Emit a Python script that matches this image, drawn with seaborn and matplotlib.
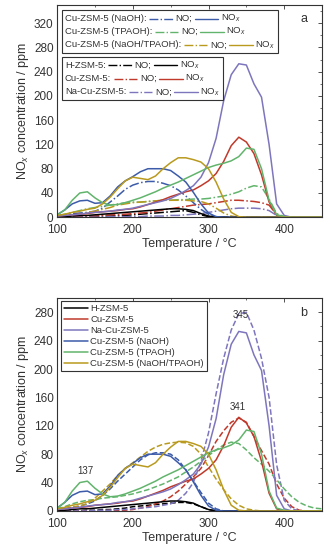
import matplotlib
matplotlib.use('Agg')
import matplotlib.pyplot as plt
from matplotlib.lines import Line2D
from matplotlib.ticker import MultipleLocator
from matplotlib.offsetbox import TextArea, DrawingArea, HPacker, VPacker, AnchoredOffsetbox
import seaborn as sns

# temperature grid (degC)
temp = list(range(100, 451, 10))

# measured NOx (solid) per sample
h_nox = [1, 1, 2, 3, 3, 4, 5, 6, 7, 8, 9, 10, 11, 12, 13, 14, 14, 13, 11, 6, 2, 0, 0, 0, 0, 0, 0, 0, 0, 0, 0, 0, 0, 0, 0, 0]
cu_nox = [2, 3, 4, 5, 6, 8, 9, 10, 11, 13, 14, 17, 21, 25, 29, 34, 38, 42, 45, 52, 60, 72, 92, 118, 132, 124, 105, 70, 25, 3, 0, 0, 0, 0, 0, 0]
nacu_nox = [2, 3, 4, 5, 7, 8, 9, 10, 12, 13, 15, 18, 21, 24, 27, 31, 37, 44, 52, 66, 90, 130, 192, 235, 253, 251, 220, 198, 120, 22, 3, 0, 0, 0, 0, 0]
naoh_nox = [4, 12, 22, 27, 28, 23, 24, 35, 50, 60, 67, 75, 80, 80, 80, 77, 68, 58, 41, 22, 7, 1, 0, 0, 0, 0, 0, 0, 0, 0, 0, 0, 0, 0, 0, 0]
tpaoh_nox = [4, 12, 28, 40, 42, 32, 24, 20, 21, 24, 28, 32, 37, 42, 48, 53, 58, 64, 70, 76, 82, 86, 89, 93, 100, 114, 112, 80, 28, 4, 1, 0, 0, 0, 0, 0]
mix_nox = [3, 5, 8, 10, 13, 15, 22, 33, 47, 60, 66, 64, 62, 68, 80, 90, 98, 98, 95, 91, 80, 58, 30, 8, 1, 0, 0, 0, 0, 0, 0, 0, 0, 0, 0, 0]

# measured NO (dash-dot)
h_no = [0, 0, 0, 1, 1, 1, 2, 2, 3, 3, 4, 5, 6, 7, 8, 9, 10, 11, 8, 4, 1, 0, 0, 0, 0, 0, 0, 0, 0, 0, 0, 0, 0, 0, 0, 0]
cu_no = [0, 0, 1, 1, 2, 2, 3, 4, 4, 5, 6, 7, 8, 10, 12, 14, 16, 18, 20, 21, 22, 24, 26, 28, 28, 27, 26, 24, 20, 4, 0, 0, 0, 0, 0, 0]
nacu_no = [0, 0, 0, 0, 0, 0, 0, 1, 1, 1, 1, 1, 2, 2, 2, 3, 3, 4, 5, 6, 8, 10, 12, 14, 15, 15, 15, 14, 11, 3, 0, 0, 0, 0, 0, 0]
naoh_no = [2, 4, 6, 7, 8, 10, 15, 25, 35, 46, 53, 57, 59, 59, 56, 52, 45, 35, 24, 13, 5, 1, 0, 0, 0, 0, 0, 0, 0, 0, 0, 0, 0, 0, 0, 0]
tpaoh_no = [2, 5, 8, 11, 14, 16, 18, 20, 22, 24, 25, 25, 26, 27, 28, 28, 29, 29, 30, 30, 31, 33, 35, 38, 42, 48, 52, 50, 30, 6, 1, 0, 0, 0, 0, 0]
mix_no = [1, 2, 3, 5, 8, 10, 13, 16, 20, 22, 24, 25, 26, 27, 28, 28, 28, 28, 27, 26, 22, 15, 7, 2, 0, 0, 0, 0, 0, 0, 0, 0, 0, 0, 0, 0]

# simulated NOx (dashed, panel b)
h_fit = [0, 0, 0, 0, 1, 1, 2, 2, 3, 4, 6, 7, 8, 9, 10, 11, 12, 12, 10, 6, 2, 0, 0, 0, 0, 0, 0, 0, 0, 0, 0, 0, 0, 0, 0, 0]
cu_fit = [0, 0, 0, 0, 0, 0, 0, 1, 1, 1, 2, 4, 6, 10, 14, 20, 28, 38, 48, 60, 78, 98, 113, 125, 131, 125, 105, 85, 66, 38, 18, 6, 1, 0, 0, 0]
nacu_fit = [0, 0, 0, 0, 0, 1, 1, 1, 2, 2, 3, 4, 5, 6, 8, 10, 15, 25, 40, 70, 110, 165, 215, 255, 278, 280, 255, 215, 160, 65, 15, 3, 0, 0, 0, 0]
naoh_fit = [2, 3, 5, 7, 10, 14, 22, 31, 42, 52, 62, 72, 79, 82, 82, 80, 72, 58, 42, 26, 11, 3, 0, 0, 0, 0, 0, 0, 0, 0, 0, 0, 0, 0, 0, 0]
tpaoh_fit = [3, 6, 10, 13, 15, 16, 18, 19, 20, 22, 24, 27, 30, 34, 38, 43, 48, 55, 62, 70, 78, 86, 93, 97, 95, 86, 75, 66, 56, 44, 31, 20, 12, 7, 4, 3]
mix_fit = [1, 3, 5, 7, 10, 18, 28, 38, 50, 60, 68, 76, 84, 90, 94, 96, 97, 96, 91, 80, 62, 45, 30, 17, 8, 3, 1, 0, 0, 0, 0, 0, 0, 0, 0, 0]

names = ['H-ZSM-5', 'Cu-ZSM-5', 'Na-Cu-ZSM-5', 'Cu-ZSM-5 (NaOH)', 'Cu-ZSM-5 (TPAOH)', 'Cu-ZSM-5 (NaOH/TPAOH)']
colors = ['#000000', '#c0392b', '#7d76bd', '#3c5ba9', '#62b46c', '#b99a1e']
nox = [h_nox, cu_nox, nacu_nox, naoh_nox, tpaoh_nox, mix_nox]
no = [h_no, cu_no, nacu_no, naoh_no, tpaoh_no, mix_no]
fit = [h_fit, cu_fit, nacu_fit, naoh_fit, tpaoh_fit, mix_fit]

sns.set_style('white')
plt.rcParams['font.family'] = ['Liberation Sans', 'DejaVu Sans']
plt.rcParams['mathtext.fontset'] = 'custom'
plt.rcParams['mathtext.rm'] = 'Liberation Sans'
plt.rcParams['mathtext.it'] = 'Liberation Sans:italic'

fig = plt.figure(figsize=(3.3, 5.5), dpi=100)
ax1 = fig.add_axes([0.173, 0.605, 0.803, 0.386])
ax2 = fig.add_axes([0.173, 0.071, 0.803, 0.387])

lw = 1.1
# panel a: NO dash-dot and NOx solid
for i in range(6):
    sns.lineplot(x=temp, y=no[i], color=colors[i], linestyle='-.', linewidth=lw, ax=ax1)
for i in range(6):
    sns.lineplot(x=temp, y=nox[i], color=colors[i], linewidth=lw, ax=ax1)

# panel b: measured solid, simulated dashed
for i in range(6):
    sns.lineplot(x=temp, y=fit[i], color=colors[i], linestyle='--', linewidth=lw, ax=ax2)
for i in range(6):
    sns.lineplot(x=temp, y=nox[i], color=colors[i], linewidth=lw, ax=ax2)

for ax, ymax in [(ax1, 350), (ax2, 300)]:
    ax.set_xlim(100, 450)
    ax.set_ylim(0, ymax)
    ax.xaxis.set_major_locator(MultipleLocator(100))
    ax.xaxis.set_minor_locator(MultipleLocator(50))
    ax.yaxis.set_major_locator(MultipleLocator(40))
    ax.yaxis.set_minor_locator(MultipleLocator(20))
    ax.tick_params(which='both', direction='in', top=True, right=True, labelsize=8.5,
                   color='#333333', labelcolor='#333333')
    ax.tick_params(axis='x', pad=5)
    ax.tick_params(axis='y', pad=2.5)
    ax.tick_params(which='major', length=3, width=0.6)
    ax.tick_params(which='minor', length=1.5, width=0.5)
    for s in ax.spines.values():
        s.set_color('#333333')
        s.set_linewidth(0.8)
    ax.set_xlabel('Temperature / °C', fontsize=9, color='#333333', labelpad=1.5)
    ax.set_ylabel('NO$_x$ concentration / ppm', fontsize=9, color='#333333', labelpad=2)
    if ymax == 350:
        ax.set_yticks(range(0, 321, 40))

ax1.text(0.93, 0.96, 'a', transform=ax1.transAxes, fontsize=9, ha='center', va='top', color='#333333')
ax2.text(0.93, 0.96, 'b', transform=ax2.transAxes, fontsize=9, ha='center', va='top', color='#333333')

# custom legends in panel a
fs = 6.8
tp = dict(fontsize=fs, color='#333333')


def sample(color, ls):
    da = DrawingArea(17, 5, 0, 0)
    da.add_artist(Line2D([0, 17], [2.5, 2.5], color=color, linestyle=ls, linewidth=1.0))
    return da


def legend_box(idx, y):
    rows = []
    for i in idx:
        rows.append(HPacker(children=[TextArea(names[i] + ':', textprops=tp), sample(colors[i], '-.'),
                                      TextArea('NO;', textprops=tp), sample(colors[i], '-'),
                                      TextArea('NO$_x$', textprops=tp)],
                            pad=0, sep=1.8, align='center'))
    box = AnchoredOffsetbox(loc='upper left', child=VPacker(children=rows, pad=0, sep=1.2, align='left'),
                            bbox_to_anchor=(0.019, y), bbox_transform=ax1.transAxes,
                            frameon=True, pad=0.2, borderpad=0)
    box.patch.set_edgecolor('#333333')
    box.patch.set_linewidth(0.8)
    ax1.add_artist(box)


legend_box([3, 4, 5], 0.976)
legend_box([0, 1, 2], 0.755)

# legend in panel b
handles = [Line2D([], [], color=c, linewidth=lw) for c in colors]
leg = ax2.legend(handles, names, loc='upper left', bbox_to_anchor=(0.015, 0.986), fontsize=6.8,
                 handlelength=2.6, handletextpad=0.2, labelspacing=0.22, borderpad=0.3,
                 borderaxespad=0, fancybox=False, frameon=True, framealpha=1)
leg.get_frame().set_edgecolor('#333333')
leg.get_frame().set_linewidth(0.8)
for t in leg.get_texts():
    t.set_color('#333333')

ax2.text(342, 276, '345', fontsize=7, ha='center', va='center', color='#333333')
ax2.text(339, 147, '341', fontsize=7, ha='center', va='center', color='#333333')
ax2.text(137, 57, '137', fontsize=7, ha='center', va='center', color='#333333')

fig.savefig('out.png', dpi=100)
plt.close()
